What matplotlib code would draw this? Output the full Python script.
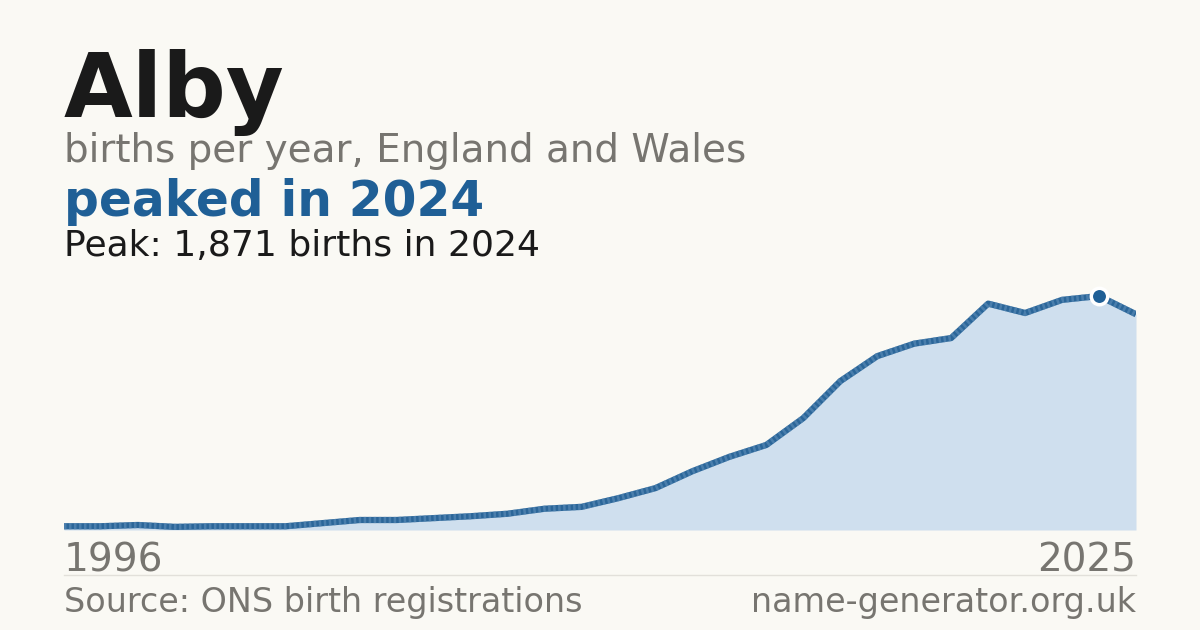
import matplotlib
matplotlib.use("Agg")
import matplotlib.pyplot as plt

years = list(range(1996, 2026))
births = [30, 30, 40, 25, 30, 30, 30, 55, 80, 80, 95, 110, 130, 170, 185, 255, 335, 470, 585, 680,
          895, 1190, 1390, 1490, 1535, 1810, 1735, 1840, 1871, 1725]
peak_year = 2024
peak_val = 1871

W, H = 1200, 630
bg = "#faf9f4"
fig = plt.figure(figsize=(12, 6.3), dpi=100, facecolor=bg)
ax = fig.add_axes([64/W, 1-530/H, 1072/W, 260/H])
ax.set_facecolor(bg)
ax.fill_between(years, births, 0, color="#cfdfee", lw=0)
ax.plot(years, births, color="#2b6699", lw=4.5, solid_capstyle="butt")
ax.plot(years, births, color="#5f8fba", lw=4.5, ls=(0, (0.4, 0.4)), alpha=0.6)
ax.scatter([peak_year], [peak_val], s=140, color="#1f5f96", edgecolor="white", linewidth=2.5, zorder=5)
ax.set_xlim(1996, 2025)
ax.set_ylim(0, peak_val*260/234)
ax.axis("off")

def t(x, y, s, size, color, weight="normal", ha="left"):
    fig.text(x/W, 1-y/H, s, fontsize=size, color=color, weight=weight, ha=ha, va="baseline",
             family="DejaVu Sans")

t(64, 117, "Alby", 64, "#1a1a1a", "bold")
t(64, 162, "births per year, England and Wales", 28, "#777570")
t(64, 216, "peaked in 2024", 35, "#1f5f96", "bold")
t(64, 256, "Peak: 1,871 births in 2024", 26, "#1a1a1a")
t(64, 571, "1996", 28, "#777570")
t(1136, 571, "2025", 28, "#777570", ha="right")
t(64, 612, "Source: ONS birth registrations", 24, "#777570")
t(1136, 612, "name-generator.org.uk", 24, "#777570", ha="right")
fig.add_artist(plt.Line2D([64/W, 1136/W], [1-575/H]*2, color="#e2e0da", lw=1))
fig.savefig("out.png", dpi=100, facecolor=bg)
